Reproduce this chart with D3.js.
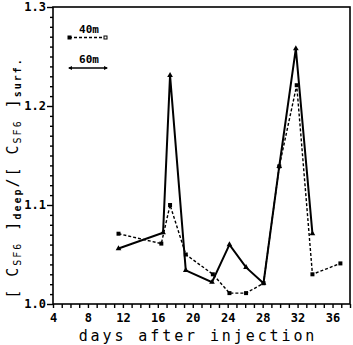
<!DOCTYPE html>
<html lang="en">
<head>
<meta charset="UTF-8">
<title>SF6 deep / surface</title>
<style>
  body { margin: 0; padding: 0; background: #fff; }
  text { font-family: "DejaVu Sans Mono", monospace; fill: #000; }
</style>
</head>
<body>
<script src="https://d3js.org/d3.v7.min.js"></script>
<script>
// data
const days40 = [11.5, 16.4, 17.4, 19.2, 22.3, 24.2, 26.1, 28.1, 29.9, 31.9, 33.7, 36.9];
const ratio40 = [1.071, 1.061, 1.100, 1.050, 1.030, 1.011, 1.011, 1.021, 1.139, 1.221, 1.030, 1.041];
const days60 = [11.5, 16.6, 17.4, 19.2, 22.2, 24.2, 26.1, 28.1, 29.9, 31.8, 33.7];
const ratio60 = [1.056, 1.072, 1.231, 1.034, 1.022, 1.060, 1.037, 1.021, 1.139, 1.258, 1.071];
const xTickLabels = [4, 8, 12, 16, 20, 24, 28, 32, 36];
const yTickLabels = [1.0, 1.1, 1.2, 1.3];

const W = 353, H = 345;
const m = { left: 53, right: 3, top: 7, bottom: 41 };

const svg = d3.select('body').append('svg')
  .attr('width', W).attr('height', H);

const x = d3.scaleLinear().domain([4, 38]).range([m.left, W - m.right]);
const y = d3.scaleLinear().domain([1.0, 1.3]).range([H - m.bottom, m.top]);

// frame
svg.append('rect')
  .attr('x', x(4)).attr('y', y(1.3))
  .attr('width', x(38) - x(4)).attr('height', y(1.0) - y(1.3))
  .attr('fill', 'none').attr('stroke', '#000').attr('stroke-width', 1.6);

// x axis: ticks every day, labels every 4
const xAxis = d3.axisBottom(x)
  .tickValues(d3.range(4, 39, 1))
  .tickSize(4)
  .tickFormat(d => xTickLabels.includes(d) ? d : '');
const gx = svg.append('g')
  .attr('transform', `translate(0,${y(1.0)})`)
  .call(xAxis);
gx.select('.domain').remove();
gx.selectAll('line').attr('stroke-width', 1.4);
gx.selectAll('text').attr('font-size', 12).attr('font-weight', 'bold').attr('dy', '0.9em');

// y axis: ticks every 0.01
const yAxis = d3.axisLeft(y)
  .tickValues(d3.range(0, 31).map(i => 1 + i / 100))
  .tickSize(3)
  .tickFormat(d => {
    const hit = yTickLabels.find(v => Math.abs(v - d) < 1e-6);
    return hit !== undefined ? hit.toFixed(1) : '';
  });
const gy = svg.append('g')
  .attr('transform', `translate(${x(4)},0)`)
  .call(yAxis);
gy.select('.domain').remove();
gy.selectAll('line').attr('stroke-width', 1.4);
gy.selectAll('.tick').filter(d => yTickLabels.some(v => Math.abs(v - d) < 1e-6))
  .select('line').attr('x2', -6);
gy.selectAll('text').attr('font-size', 12).attr('font-weight', 'bold').attr('x', -7);

// series
const s40 = days40.map((d, i) => [d, ratio40[i]]);
const s60 = days60.map((d, i) => [d, ratio60[i]]);
const line = d3.line().x(d => x(d[0])).y(d => y(d[1]));

svg.append('path').datum(s40)
  .attr('d', line).attr('fill', 'none')
  .attr('stroke', '#000').attr('stroke-width', 1.4)
  .attr('stroke-dasharray', '3,2');

svg.append('path').datum(s60)
  .attr('d', line).attr('fill', 'none')
  .attr('stroke', '#000').attr('stroke-width', 2);

svg.append('g').selectAll('rect')
  .data(s40).enter().append('rect')
  .attr('x', d => x(d[0]) - 2).attr('y', d => y(d[1]) - 2)
  .attr('width', 4).attr('height', 4).attr('fill', '#000');

svg.append('g').selectAll('path')
  .data(s60).enter().append('path')
  .attr('d', d3.symbol(d3.symbolTriangle, 14))
  .attr('transform', d => `translate(${x(d[0])},${y(d[1])})`)
  .attr('fill', '#000');

// legend
const lg = svg.append('g');
lg.append('line').attr('x1', 69).attr('x2', 106).attr('y1', 37.5).attr('y2', 37.5)
  .attr('stroke', '#000').attr('stroke-width', 1.4).attr('stroke-dasharray', '3,2');
lg.append('rect').attr('x', 67.5).attr('y', 35.5).attr('width', 4).attr('height', 4).attr('fill', '#000');
lg.append('rect').attr('x', 104).attr('y', 36).attr('width', 3).attr('height', 3)
  .attr('fill', '#fff').attr('stroke', '#000').attr('stroke-width', 1);
lg.append('text').attr('x', 89).attr('y', 33).attr('text-anchor', 'middle')
  .attr('font-size', 11).attr('font-weight', 'bold').text('40m');

lg.append('line').attr('x1', 69).attr('x2', 107).attr('y1', 68).attr('y2', 68)
  .attr('stroke', '#000').attr('stroke-width', 1.6);
lg.append('path').attr('d', 'M68,68 L72,66 L72,70 Z').attr('fill', '#000');
lg.append('path').attr('d', 'M108,68 L104,66 L104,70 Z').attr('fill', '#000');
lg.append('text').attr('x', 89).attr('y', 63).attr('text-anchor', 'middle')
  .attr('font-size', 11).attr('font-weight', 'bold').text('60m');

// x title
svg.append('text')
  .attr('x', 198).attr('y', 341)
  .attr('text-anchor', 'middle')
  .attr('font-size', 15)
  .attr('letter-spacing', 2.9)
  .text('days after injection');

// y title
const yt = svg.append('text')
  .attr('transform', 'translate(18,178) rotate(-90)')
  .attr('text-anchor', 'middle')
  .attr('font-size', 15)
  .attr('letter-spacing', 2);
yt.append('tspan').text('[ C');
yt.append('tspan').attr('font-size', 10).attr('dy', 3).text('SF6');
yt.append('tspan').attr('dy', -3).text(' ]');
yt.append('tspan').attr('font-size', 10).attr('dy', 3).attr('font-weight', 'bold').text('deep');
yt.append('tspan').attr('dy', -3).text('/[ C');
yt.append('tspan').attr('font-size', 10).attr('dy', 3).text('SF6');
yt.append('tspan').attr('dy', -3).text(' ]');
yt.append('tspan').attr('font-size', 10).attr('dy', 3).attr('font-weight', 'bold').text('surf.');
</script>
</body>
</html>
